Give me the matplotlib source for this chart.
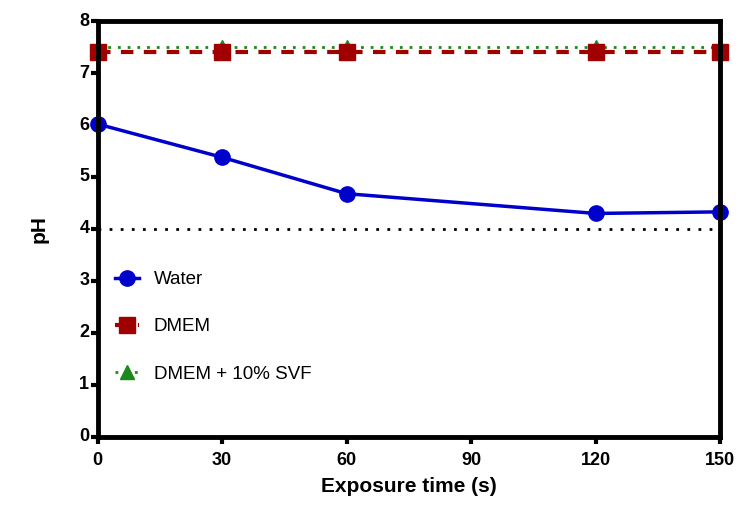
import matplotlib
matplotlib.use("Agg")
import matplotlib.pyplot as plt
import matplotlib.transforms as mtransforms

plt.rcParams["font.family"] = ["Liberation Sans", "DejaVu Sans"]

time_s = [0, 30, 60, 120, 150]
ph_water = [6.02, 5.38, 4.68, 4.30, 4.33]
ph_dmem = [7.40, 7.40, 7.40, 7.40, 7.40]
ph_dmem_svf = [7.50, 7.50, 7.50, 7.50, 7.50]
ref_ph = 4.0

fig = plt.figure(figsize=(7.4, 5.05), dpi=100)
ax = fig.add_axes([0.132, 0.135, 0.841, 0.823])

ax.plot([0, 150], [ref_ph, ref_ph], color="black", linestyle=(0, (1, 3)), linewidth=2)
ax.plot(time_s, ph_dmem_svf, color="#1a8a1a", linestyle=(0, (1, 2.5)), linewidth=2,
        marker="^", markersize=10, label="DMEM + 10% SVF")
ax.plot(time_s, ph_dmem, color="#a00000", linestyle=(0, (3, 2.5)), linewidth=3,
        marker="s", markersize=11, label="DMEM")
ax.plot(time_s, ph_water, color="#0000cc", linewidth=2.5,
        marker="o", markersize=11, label="Water")

ax.set_xlim(0, 150)
ax.set_ylim(0, 8)
ax.set_xticks([0, 30, 60, 90, 120, 150])
ax.set_yticks(range(0, 9))
for s in ax.spines.values():
    s.set_linewidth(3.5)
ax.tick_params(width=3, length=5, labelsize=13)
ax.tick_params(axis="x", pad=6)
ax.tick_params(axis="y", pad=1)
for lbl in ax.get_xticklabels() + ax.get_yticklabels():
    lbl.set_fontweight("bold")
# y tick labels sit slightly above their ticks
shift = mtransforms.ScaledTranslation(0, 1.5 / 72, fig.dpi_scale_trans)
for lbl in ax.get_yticklabels():
    lbl.set_transform(lbl.get_transform() + shift)
ax.set_xlabel("Exposure time (s)", fontsize=15, fontweight="bold", labelpad=6)
ax.set_ylabel("pH", fontsize=15, fontweight="bold", labelpad=22)

h, l = ax.get_legend_handles_labels()
ax.legend(h[::-1], l[::-1], loc="lower left", bbox_to_anchor=(0.0, 0.09),
          frameon=False, fontsize=13.5, handlelength=1.3, labelspacing=1.6)
for line in ax.lines:
    line.set_clip_on(False)

fig.savefig("out.png", dpi=100)
